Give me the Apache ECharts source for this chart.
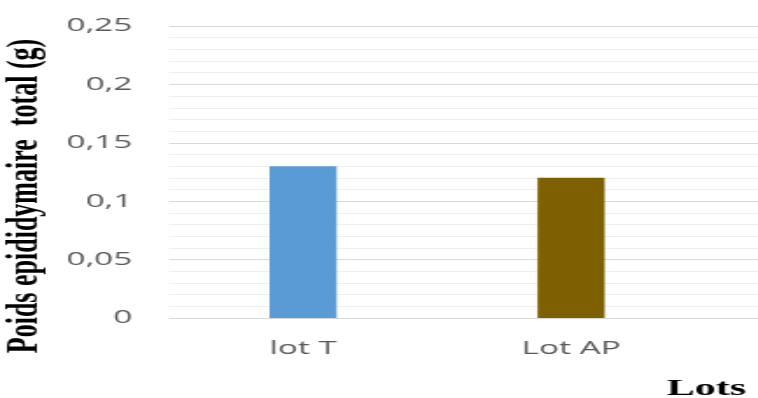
<!DOCTYPE html>
<html>
<head>
<meta charset="utf-8">
<script src="https://cdn.jsdelivr.net/npm/echarts@6/dist/echarts.min.js"></script>
<style>
  html, body { margin: 0; padding: 0; background: #ffffff; overflow: hidden; }
  #wrap { width: 758px; height: 398px; overflow: hidden; }
  #chart { width: 433px; height: 398px; transform: scaleX(1.75); transform-origin: 0 0; }
</style>
</head>
<body>
<div id="wrap"><div id="chart"></div></div>
<script>
// ---- data ----
const categories = ['lot T', 'Lot AP'];
const values = [0.13, 0.12];
const yTickValues = [0, 0.05, 0.1, 0.15, 0.2, 0.25];
const yTickLabels = ['0', '0,05', '0,1', '0,15', '0,2', '0,25'];
const yAxisTitle = 'Poids epididymaire  total (g)';
const xAxisTitle = 'Lots';

// ---- styles ----
const barColors = ['#5b9bd5', '#7f6000'];

function tickLabel(v) {
  for (let i = 0; i < yTickValues.length; i++) {
    if (Math.abs(yTickValues[i] - v) < 1e-9) return yTickLabels[i];
  }
  return '';
}

const chart = echarts.init(document.getElementById('chart'), null, { renderer: 'canvas' });
chart.setOption({
  animation: false,
  backgroundColor: '#ffffff',
  title: {
    text: xAxisTitle,
    left: 381,
    top: 377,
    padding: 0,
    textStyle: { fontFamily: 'Liberation Serif', fontWeight: 'bold', fontSize: 24, color: '#000000' }
  },
  grid: [
    { left: 96.6, right: 0, top: 26, bottom: 80, containLabel: false, outerBoundsMode: 'none' },
    { left: 96.6, width: 306.3, top: 26, bottom: 80, containLabel: false, outerBoundsMode: 'none' }
  ],
  xAxis: [
    { type: 'value', gridIndex: 0, show: false, min: 0, max: 1 },
    {
      type: 'category', gridIndex: 1, data: categories,
      axisLine: { show: false }, axisTick: { show: false },
      axisLabel: { margin: 21, fontFamily: 'Open Sans', fontSize: 19, color: '#595959' }
    }
  ],
  yAxis: [
    {
      type: 'value', gridIndex: 0, min: 0, max: 0.25, interval: 0.05,
      axisLine: { show: false }, axisTick: { show: false },
      axisLabel: { margin: 21, fontFamily: 'Open Sans', fontSize: 19, color: '#595959', formatter: tickLabel },
      splitLine: { show: true, lineStyle: { color: '#d9d9d9', width: 1 } },
      minorTick: { show: false, splitNumber: 5 },
      minorSplitLine: { show: true, lineStyle: { color: '#efefef', width: 1 } },
      name: yAxisTitle,
      nameLocation: 'middle',
      nameGap: 52,
      nameTextStyle: { fontFamily: 'Liberation Serif', fontWeight: 'bold', fontSize: 26, color: '#000000', padding: [0, 48, 0, 0] }
    },
    { type: 'value', gridIndex: 1, min: 0, max: 0.25, interval: 0.05, show: false, splitLine: { show: false } }
  ],
  series: [
    {
      type: 'bar',
      xAxisIndex: 1,
      yAxisIndex: 1,
      barWidth: 38.3,
      data: values.map((v, i) => ({ value: v, itemStyle: { color: barColors[i] } }))
    }
  ]
});
</script>
</body>
</html>
